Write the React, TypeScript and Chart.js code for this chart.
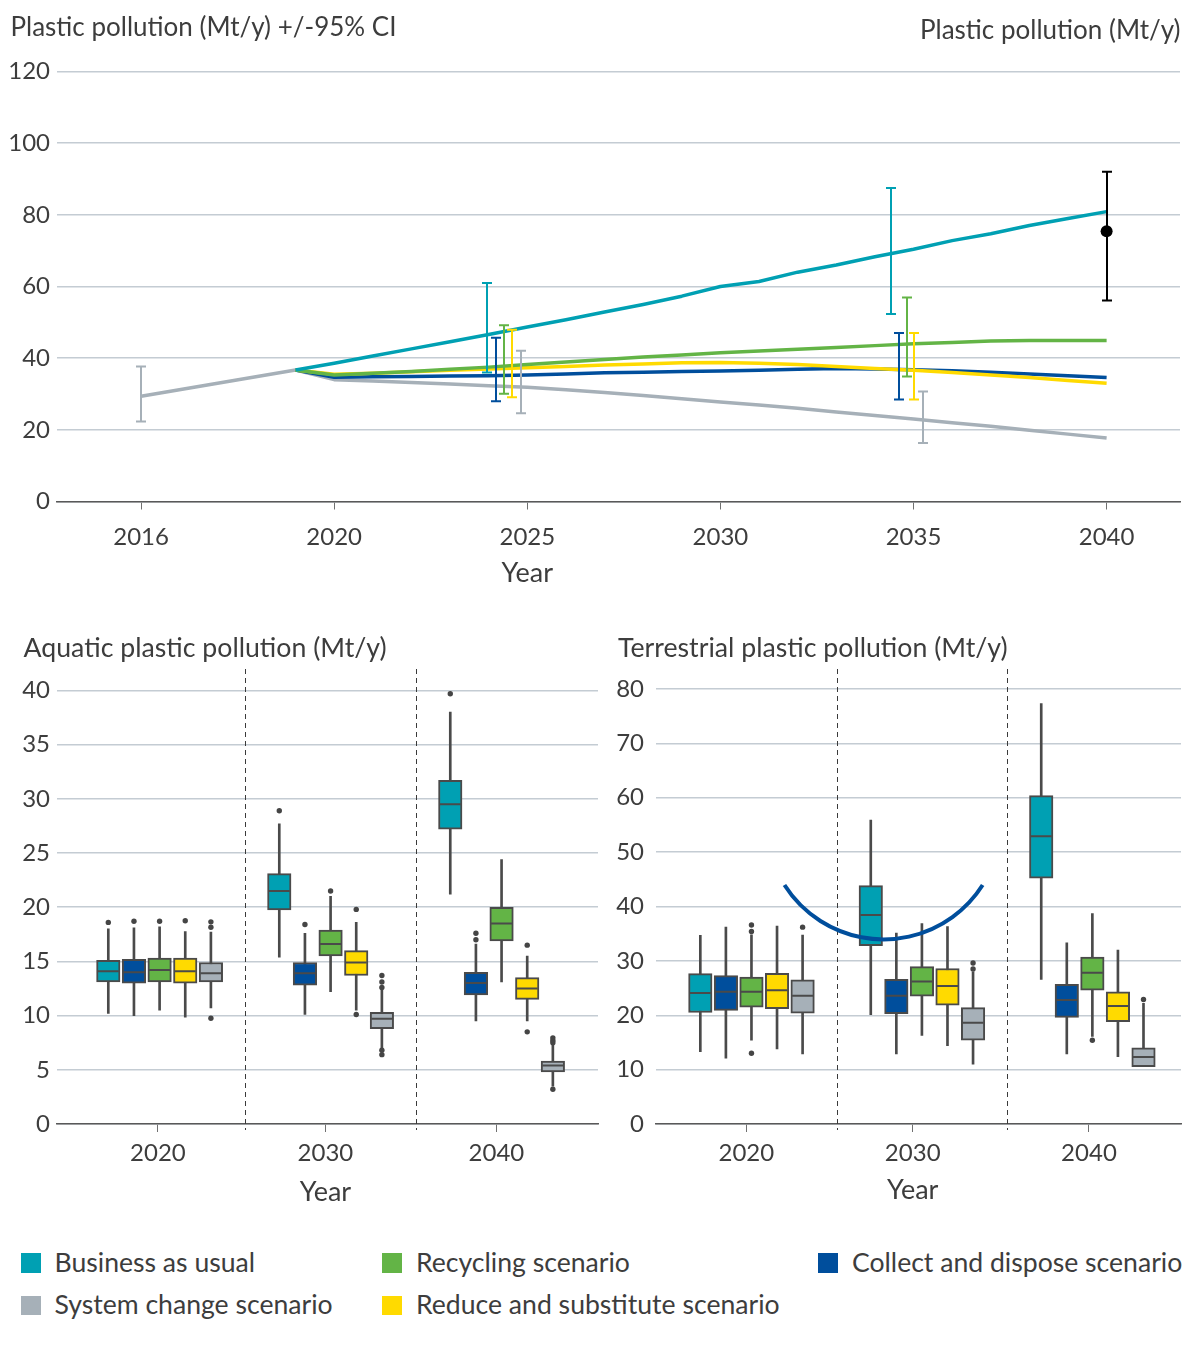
import React, { useEffect, useRef } from 'react';
import { Chart, registerables } from 'chart.js';

Chart.register(...registerables);

// ---------------- styles ----------------
const FONT = 'Lato, "Noto Sans", Arial, sans-serif';
const TEXT = '#3d3d3d';
const GRID = '#c4ccd3';
const AXIS = '#595959';
const BOX_LINE = '#4a4a4a';

const COLOR_BAU = '#00A0B3';
const COLOR_COLLECT = '#004E9C';
const COLOR_RECYCLING = '#63B446';
const COLOR_REDUCE = '#FFDA00';
const COLOR_SYSTEM = '#A6B0B8';
const COLOR_TOTAL = '#000000';

// ---------------- top chart data ----------------
const topLeftTitle = 'Plastic pollution (Mt/y) +/-95% CI';
const topRightTitle = 'Plastic pollution (Mt/y)';
const xAxisTitle = 'Year';

const historicalYears = [2015, 2019];
const historicalValues = [29.4, 36.7];

const scenarioYears = [2019, 2020, 2021, 2022, 2023, 2024, 2025, 2026, 2027, 2028, 2029, 2030, 2031, 2032, 2033, 2034, 2035, 2036, 2037, 2038, 2039, 2040];
const bauValues = [36.7, 38.6, 40.6, 42.6, 44.6, 46.6, 48.7, 50.7, 52.9, 55.0, 57.3, 60.0, 61.4, 64.0, 66.0, 68.3, 70.4, 72.8, 74.7, 77.0, 79.0, 80.9];
const recyclingValues = [36.7, 35.3, 35.8, 36.3, 36.9, 37.5, 38.2, 38.9, 39.6, 40.3, 40.9, 41.5, 42.0, 42.5, 43.0, 43.5, 44.0, 44.4, 44.8, 44.9, 44.9, 44.9];
const collectValues = [36.7, 34.7, 34.8, 34.9, 35.0, 35.1, 35.3, 35.6, 35.9, 36.1, 36.3, 36.4, 36.6, 36.9, 37.1, 37.0, 36.8, 36.5, 36.1, 35.6, 35.1, 34.6];
const reduceValues = [36.7, 35.5, 35.8, 36.2, 36.6, 37.0, 37.3, 37.7, 38.1, 38.4, 38.7, 38.8, 38.6, 38.2, 37.7, 37.1, 36.6, 36.0, 35.3, 34.6, 33.8, 33.0];
const systemValues = [36.7, 34.0, 33.6, 33.2, 32.8, 32.3, 31.9, 31.2, 30.4, 29.6, 28.7, 27.8, 26.9, 26.0, 25.0, 24.0, 23.0, 22.0, 21.0, 19.9, 18.8, 17.7];

// confidence intervals: [year, low, high]
const historicalCI = [[2015, 22.3, 37.7]];
const bauCI = [[2023.96, 36.0, 61.0], [2034.43, 52.3, 87.5]];
const collectCI = [[2024.19, 28.0, 45.7], [2034.62, 28.5, 47.0]];
const recyclingCI = [[2024.4, 30.1, 49.2], [2034.83, 34.9, 56.9]];
const reduceCI = [[2024.6, 29.1, 47.9], [2035.02, 28.5, 47.0]];
const systemCI = [[2024.83, 24.6, 42.1], [2035.25, 16.3, 30.7]];
const totalYears = [2040];
const totalValues = [75.4];
const totalCI = [[2040, 56.1, 92.0]];

const topXTickValues = [2015, 2020, 2025, 2030, 2035, 2040];
const topXTickLabels = ['2016', '2020', '2025', '2030', '2035', '2040'];
const topYTicks = [0, 20, 40, 60, 80, 100, 120];

// ---------------- box plot data ----------------
// each entry: [whiskerLow, q1, median, q3, whiskerHigh] for 2020, 2030, 2040
const groupLabels = ['2020', '2030', '2040'];

const aquaticTitle = 'Aquatic plastic pollution (Mt/y)';
const aquaticYTicks = [0, 5, 10, 15, 20, 25, 30, 35, 40];
const aqBAU = [[10.2, 13.1, 14.1, 15.1, 18.0], [15.4, 19.75, 21.5, 23.1, 27.7], [21.2, 27.2, 29.5, 31.7, 38.0]];
const aqCollect = [[10.0, 13.0, 14.0, 15.2, 18.1], [10.1, 12.8, 13.9, 14.9, 17.6], [9.5, 11.9, 13.0, 14.0, 16.6]];
const aqRecycling = [[10.5, 13.1, 14.2, 15.3, 18.2], [12.2, 15.5, 16.6, 17.9, 21.0], [13.1, 16.9, 18.5, 20.0, 24.4]];
const aqReduce = [[9.85, 13.0, 14.1, 15.3, 17.75], [10.5, 13.7, 14.9, 16.0, 18.6], [9.5, 11.5, 12.5, 13.5, 15.5]];
const aqSystem = [[10.7, 13.1, 13.9, 14.9, 17.7], [6.9, 8.8, 9.7, 10.3, 12.5], [3.5, 4.8, 5.4, 5.8, 7.35]];
// outliers: [groupIndex, value]
const aqBAUOut = [[0, 18.6], [1, 28.9], [2, 39.7]];
const aqCollectOut = [[0, 18.7], [1, 18.4], [2, 17.0], [2, 17.6]];
const aqRecyclingOut = [[0, 18.7], [1, 21.5]];
const aqReduceOut = [[0, 18.75], [1, 19.8], [1, 10.1], [2, 16.5], [2, 8.5]];
const aqSystemOut = [[0, 18.15], [0, 18.65], [0, 9.75], [1, 12.6], [1, 13.1], [1, 13.7], [1, 6.8], [1, 6.4], [2, 7.5], [2, 7.7], [2, 7.95], [2, 3.2]];

const terrestrialTitle = 'Terrestrial plastic pollution (Mt/y)';
const terrestrialYTicks = [0, 10, 20, 30, 40, 50, 60, 70, 80];
const trBAU = [[13.3, 20.5, 24.1, 27.65, 34.7], [20.1, 32.8, 38.45, 43.85, 55.9], [26.6, 45.2, 52.9, 60.4, 77.3]];
const trCollect = [[12.1, 20.9, 24.3, 27.3, 36.2], [12.9, 20.3, 23.6, 26.6, 35.1], [12.9, 19.6, 22.8, 25.7, 33.3]];
const trRecycling = [[15.4, 21.5, 24.3, 27.0, 34.8], [16.3, 23.5, 26.2, 28.95, 36.85], [16.1, 24.6, 27.8, 30.7, 38.7]];
const trReduce = [[13.8, 21.2, 24.6, 27.7, 36.4], [14.4, 21.85, 25.4, 28.6, 36.3], [12.4, 18.8, 21.7, 24.3, 32.0]];
const trSystem = [[12.9, 20.4, 23.6, 26.5, 34.75], [11.0, 15.4, 18.6, 21.4, 28.0], [10.55, 10.55, 12.3, 14.0, 22.2]];
const trBAUOut: number[][] = [];
const trCollectOut: number[][] = [];
const trRecyclingOut = [[0, 35.4], [0, 36.6], [0, 13.0], [2, 15.4]];
const trReduceOut: number[][] = [];
const trSystemOut = [[0, 36.2], [1, 28.5], [1, 29.6], [2, 22.9]];

// ---------------- legend ----------------
const legendLabels = ['Business as usual', 'Recycling scenario', 'Collect and dispose scenario', 'System change scenario', 'Reduce and substitute scenario'];
const legendColors = [COLOR_BAU, COLOR_RECYCLING, COLOR_COLLECT, COLOR_SYSTEM, COLOR_REDUCE];
const legendSlots = [[20.5, 0], [382, 0], [818, 0], [20.5, 1], [382, 1]];

// ---------------- configs ----------------
function pts(xs: number[], ys: number[]) {
  return xs.map((x, i) => ({ x, y: ys[i] }));
}

function drawYear(chart: any, xValue: number, yPx: number) {
  const ctx = chart.ctx;
  ctx.save();
  ctx.font = `27px ${FONT}`;
  ctx.fillStyle = TEXT;
  ctx.textAlign = 'center';
  ctx.textBaseline = 'middle';
  ctx.fillText(xAxisTitle, chart.scales.x.getPixelForValue(xValue), yPx);
  ctx.restore();
}

function topConfig(): any {
  const line = (label: string, data: any[], color: string, order: number) => ({
    type: 'line',
    label,
    data,
    borderColor: color,
    backgroundColor: color,
    borderWidth: 3.5,
    pointRadius: 0,
    tension: 0,
    fill: false,
    order,
    borderJoinStyle: 'round',
  });
  const ciGroups = [
    { color: COLOR_SYSTEM, items: historicalCI },
    { color: COLOR_BAU, items: bauCI },
    { color: COLOR_COLLECT, items: collectCI },
    { color: COLOR_RECYCLING, items: recyclingCI },
    { color: COLOR_REDUCE, items: reduceCI },
    { color: COLOR_SYSTEM, items: systemCI },
    { color: COLOR_TOTAL, items: totalCI },
  ];
  const ciPlugin = {
    id: 'ciBars',
    afterDatasetsDraw(chart: any) {
      const { ctx, scales } = chart;
      const x = scales.x, y = scales.y;
      ctx.save();
      ctx.lineWidth = 2;
      for (const g of ciGroups) {
        ctx.strokeStyle = g.color;
        for (const [xv, lo, hi] of g.items) {
          const px = Math.round(x.getPixelForValue(xv));
          const pl = y.getPixelForValue(lo);
          const ph = y.getPixelForValue(hi);
          ctx.beginPath();
          ctx.moveTo(px, pl);
          ctx.lineTo(px, ph);
          ctx.moveTo(px - 5, pl);
          ctx.lineTo(px + 5, pl);
          ctx.moveTo(px - 5, ph);
          ctx.lineTo(px + 5, ph);
          ctx.stroke();
        }
      }
      ctx.restore();
    },
  };
  const titlePlugin = {
    id: 'topTitles',
    afterDraw(chart: any) {
      const ctx = chart.ctx;
      ctx.save();
      ctx.font = `26px ${FONT}`;
      ctx.fillStyle = TEXT;
      ctx.textBaseline = 'alphabetic';
      ctx.textAlign = 'left';
      ctx.fillText(topLeftTitle, 10.5, 36);
      ctx.textAlign = 'right';
      ctx.fillText(topRightTitle, 1180.5, 39);
      ctx.restore();
      drawYear(chart, 2025, 573);
    },
  };
  const grayData = pts(historicalYears, historicalValues).concat(pts(scenarioYears, systemValues));
  return {
    type: 'line',
    data: {
      datasets: [
        line('System change scenario', grayData, COLOR_SYSTEM, 6),
        line('Collect and dispose scenario', pts(scenarioYears, collectValues), COLOR_COLLECT, 5),
        line('Reduce and substitute scenario', pts(scenarioYears, reduceValues), COLOR_REDUCE, 4),
        line('Recycling scenario', pts(scenarioYears, recyclingValues), COLOR_RECYCLING, 3),
        line('Business as usual', pts(scenarioYears, bauValues), COLOR_BAU, 2),
        {
          type: 'scatter',
          label: 'Total',
          data: pts(totalYears, totalValues),
          pointRadius: 6,
          pointBackgroundColor: COLOR_TOTAL,
          pointBorderWidth: 0,
          order: 1,
        },
      ],
    },
    options: {
      responsive: false,
      maintainAspectRatio: false,
      animation: false,
      events: [],
      layout: { autoPadding: false, padding: { top: 71.5, right: 20, bottom: 0, left: 0 } },
      plugins: { legend: { display: false }, tooltip: { enabled: false } },
      scales: {
        x: {
          type: 'linear',
          min: 2012.81,
          max: 2041.9,
          offset: false,
          afterBuildTicks: (s: any) => { s.ticks = topXTickValues.map((v) => ({ value: v })); },
          afterFit: (s: any) => { s.height = 98.5; s.paddingLeft = 0; s.paddingRight = 0; },
          ticks: {
            callback: (_v: any, i: number) => topXTickLabels[i],
            font: { family: FONT, size: 24 },
            color: TEXT,
            padding: 13,
            autoSkip: false,
            maxRotation: 0,
          },
          grid: { drawOnChartArea: false, drawTicks: true, tickLength: 8, color: '#707070', lineWidth: 1, offset: false },
          border: { display: true, color: AXIS, width: 1.5 },
        },
        y: {
          type: 'linear',
          min: 0,
          max: 120,
          afterBuildTicks: (s: any) => { s.ticks = topYTicks.map((v) => ({ value: v })); },
          afterFit: (s: any) => { s.width = 56.5; },
          ticks: { font: { family: FONT, size: 24 }, color: TEXT, padding: 6.5 },
          grid: { color: GRID, lineWidth: 1.5, drawTicks: false },
          border: { display: false },
        },
      },
    },
    plugins: [ciPlugin, titlePlugin],
  };
}

const boxOffsets = [-0.3, -0.15, 0, 0.15, 0.3];
const groupPositions = [0, 1, 2];

function boxConfig(spec: any): any {
  const whiskerData: any[] = [];
  const medianData: any[] = [];
  const outlierData: any[] = [];
  const boxDatasets: any[] = [];
  spec.series.forEach((s: any, si: number) => {
    const boxData: any[] = [];
    s.stats.forEach((st: number[], gi: number) => {
      const xv = groupPositions[gi] + boxOffsets[si];
      whiskerData.push({ x: xv, y: [st[0], st[4]] });
      boxData.push({ x: xv, y: [st[1], st[3]] });
      medianData.push({ x: xv, y: st[2] });
    });
    s.outliers.forEach(([gi, v]: number[]) => {
      outlierData.push({ x: groupPositions[gi] + boxOffsets[si], y: v });
    });
    boxDatasets.push({
      type: 'bar',
      label: s.label,
      data: boxData,
      backgroundColor: s.color,
      borderColor: BOX_LINE,
      borderWidth: 2,
      borderSkipped: false,
      barThickness: 23.5,
      grouped: false,
      order: 3,
    });
  });
  const sepPlugin = {
    id: 'separators',
    beforeDatasetsDraw(chart: any) {
      const { ctx, chartArea, scales } = chart;
      ctx.save();
      ctx.strokeStyle = '#3a3a3a';
      ctx.lineWidth = 1;
      ctx.setLineDash([5, 4]);
      for (const v of [0.5, 1.5]) {
        const px = Math.round(scales.x.getPixelForValue(v)) + 0.5;
        ctx.beginPath();
        ctx.moveTo(px, chartArea.top);
        ctx.lineTo(px, chartArea.bottom + 6);
        ctx.stroke();
      }
      ctx.restore();
    },
  };
  const titlePlugin = {
    id: 'boxTitle',
    afterDraw(chart: any) {
      const ctx = chart.ctx;
      ctx.save();
      ctx.font = `26.7px ${FONT}`;
      ctx.fillStyle = TEXT;
      ctx.textBaseline = 'alphabetic';
      ctx.textAlign = 'left';
      ctx.fillText(spec.title, spec.titleX, spec.titleY);
      if (spec.arc) {
        const a = spec.arc;
        const cx = chart.scales.x.getPixelForValue(a.x);
        const cy = chart.scales.y.getPixelForValue(a.y);
        ctx.strokeStyle = COLOR_COLLECT;
        ctx.lineWidth = 4;
        ctx.beginPath();
        ctx.arc(cx, cy, a.r, (a.start * Math.PI) / 180, (a.end * Math.PI) / 180);
        ctx.stroke();
      }
      ctx.restore();
      drawYear(chart, spec.tickPositions[1], spec.yearY);
    },
  };
  return {
    type: 'bar',
    data: {
      datasets: [
        {
          type: 'bar',
          label: 'whiskers',
          data: whiskerData,
          backgroundColor: BOX_LINE,
          borderWidth: 0,
          barThickness: 2,
          grouped: false,
          order: 4,
        },
        ...boxDatasets,
        {
          type: 'scatter',
          label: 'medians',
          data: medianData,
          pointStyle: 'line',
          pointRadius: 10.5,
          pointBorderColor: BOX_LINE,
          borderColor: BOX_LINE,
          pointBorderWidth: 2,
          order: 2,
        },
        {
          type: 'scatter',
          label: 'outliers',
          data: outlierData,
          pointRadius: 2.7,
          pointBackgroundColor: '#454545',
          pointBorderWidth: 0,
          order: 1,
        },
      ],
    },
    options: {
      responsive: false,
      maintainAspectRatio: false,
      animation: false,
      events: [],
      layout: { autoPadding: false, padding: spec.padding },
      plugins: { legend: { display: false }, tooltip: { enabled: false } },
      scales: {
        x: {
          type: 'linear',
          min: spec.xMin,
          max: spec.xMax,
          offset: false,
          afterBuildTicks: (s: any) => { s.ticks = spec.tickPositions.map((v: number) => ({ value: v })); },
          afterFit: (s: any) => { s.height = spec.xAxisHeight; s.paddingLeft = 0; s.paddingRight = 0; },
          ticks: {
            callback: (_v: any, i: number) => groupLabels[i],
            font: { family: FONT, size: 24 },
            color: TEXT,
            padding: 7,
            autoSkip: false,
            maxRotation: 0,
          },
          grid: { drawOnChartArea: false, drawTicks: true, tickLength: 8, color: '#707070', lineWidth: 1, offset: false },
          border: { display: true, color: AXIS, width: 1.5 },
        },
        y: {
          type: 'linear',
          min: 0,
          max: spec.yMax,
          afterBuildTicks: (s: any) => { s.ticks = spec.yTicks.map((v: number) => ({ value: v })); },
          afterFit: (s: any) => { s.width = spec.yAxisWidth; },
          ticks: { font: { family: FONT, size: 24 }, color: TEXT, padding: spec.yLabelPad },
          grid: { color: GRID, lineWidth: 1.5, drawTicks: false },
          border: { display: false },
        },
      },
    },
    plugins: [sepPlugin, titlePlugin],
  };
}

const aquaticSpec = {
  title: aquaticTitle,
  titleX: 23.5,
  titleY: 37.3,
  series: [
    { label: 'Business as usual', stats: aqBAU, outliers: aqBAUOut, color: COLOR_BAU },
    { label: 'Collect and dispose scenario', stats: aqCollect, outliers: aqCollectOut, color: COLOR_COLLECT },
    { label: 'Recycling scenario', stats: aqRecycling, outliers: aqRecyclingOut, color: COLOR_RECYCLING },
    { label: 'Reduce and substitute scenario', stats: aqReduce, outliers: aqReduceOut, color: COLOR_REDUCE },
    { label: 'System change scenario', stats: aqSystem, outliers: aqSystemOut, color: COLOR_SYSTEM },
  ],
  tickPositions: [-0.01, 0.97, 1.97],
  yMax: 41.98,
  yTicks: aquaticYTicks,
  xMin: -0.603,
  xMax: 2.564,
  padding: { top: 49, right: 2, bottom: 0, left: 0 },
  xAxisHeight: 96,
  yAxisWidth: 56.5,
  yLabelPad: 6.5,
  yearY: 572,
};

const terrestrialSpec = {
  title: terrestrialTitle,
  titleX: 18,
  titleY: 37.3,
  series: [
    { label: 'Business as usual', stats: trBAU, outliers: trBAUOut, color: COLOR_BAU },
    { label: 'Collect and dispose scenario', stats: trCollect, outliers: trCollectOut, color: COLOR_COLLECT },
    { label: 'Recycling scenario', stats: trRecycling, outliers: trRecyclingOut, color: COLOR_RECYCLING },
    { label: 'Reduce and substitute scenario', stats: trReduce, outliers: trReduceOut, color: COLOR_REDUCE },
    { label: 'System change scenario', stats: trSystem, outliers: trSystemOut, color: COLOR_SYSTEM },
  ],
  tickPositions: [-0.03, 0.946, 1.98],
  yMax: 83.68,
  yTicks: terrestrialYTicks,
  xMin: -0.563,
  xMax: 2.52,
  padding: { top: 49, right: 19, bottom: 0, left: 0 },
  xAxisHeight: 96,
  yAxisWidth: 55.5,
  yLabelPad: 11.5,
  yearY: 570,
  arc: { x: 0.775, y: 55.56, r: 117.5, start: 32.5, end: 147.5 },
};

export default function App() {
  const topRef = useRef<HTMLCanvasElement>(null);
  const aqRef = useRef<HTMLCanvasElement>(null);
  const trRef = useRef<HTMLCanvasElement>(null);

  useEffect(() => {
    Chart.defaults.font.family = FONT;
    Chart.defaults.color = TEXT;
    const charts = [
      new Chart(topRef.current as HTMLCanvasElement, topConfig()),
      new Chart(aqRef.current as HTMLCanvasElement, boxConfig(aquaticSpec)),
      new Chart(trRef.current as HTMLCanvasElement, boxConfig(terrestrialSpec)),
    ];
    return () => charts.forEach((c) => c.destroy());
  }, []);

  return (
    <div style={{ position: 'absolute', left: 0, top: 0, width: 1200, height: 1355, background: '#ffffff', fontFamily: FONT }}>
      <canvas ref={topRef} width={1200} height={600} style={{ position: 'absolute', left: 0, top: 0, width: 1200, height: 600 }} />
      <canvas ref={aqRef} width={600} height={600} style={{ position: 'absolute', left: 0, top: 620, width: 600, height: 600 }} />
      <canvas ref={trRef} width={600} height={600} style={{ position: 'absolute', left: 600, top: 620, width: 600, height: 600 }} />
      {legendLabels.map((label, i) => {
        const [lx, row] = legendSlots[i];
        return (
          <div key={label}>
            <div style={{ position: 'absolute', left: lx, top: 1253.3 + row * 42.4, width: 20, height: 19.5, background: legendColors[i] }} />
            <div style={{ position: 'absolute', left: lx + 34, top: 1249 + row * 42, fontSize: 26.6, lineHeight: '26px', color: TEXT, whiteSpace: 'nowrap' }}>{label}</div>
          </div>
        );
      })}
    </div>
  );
}
